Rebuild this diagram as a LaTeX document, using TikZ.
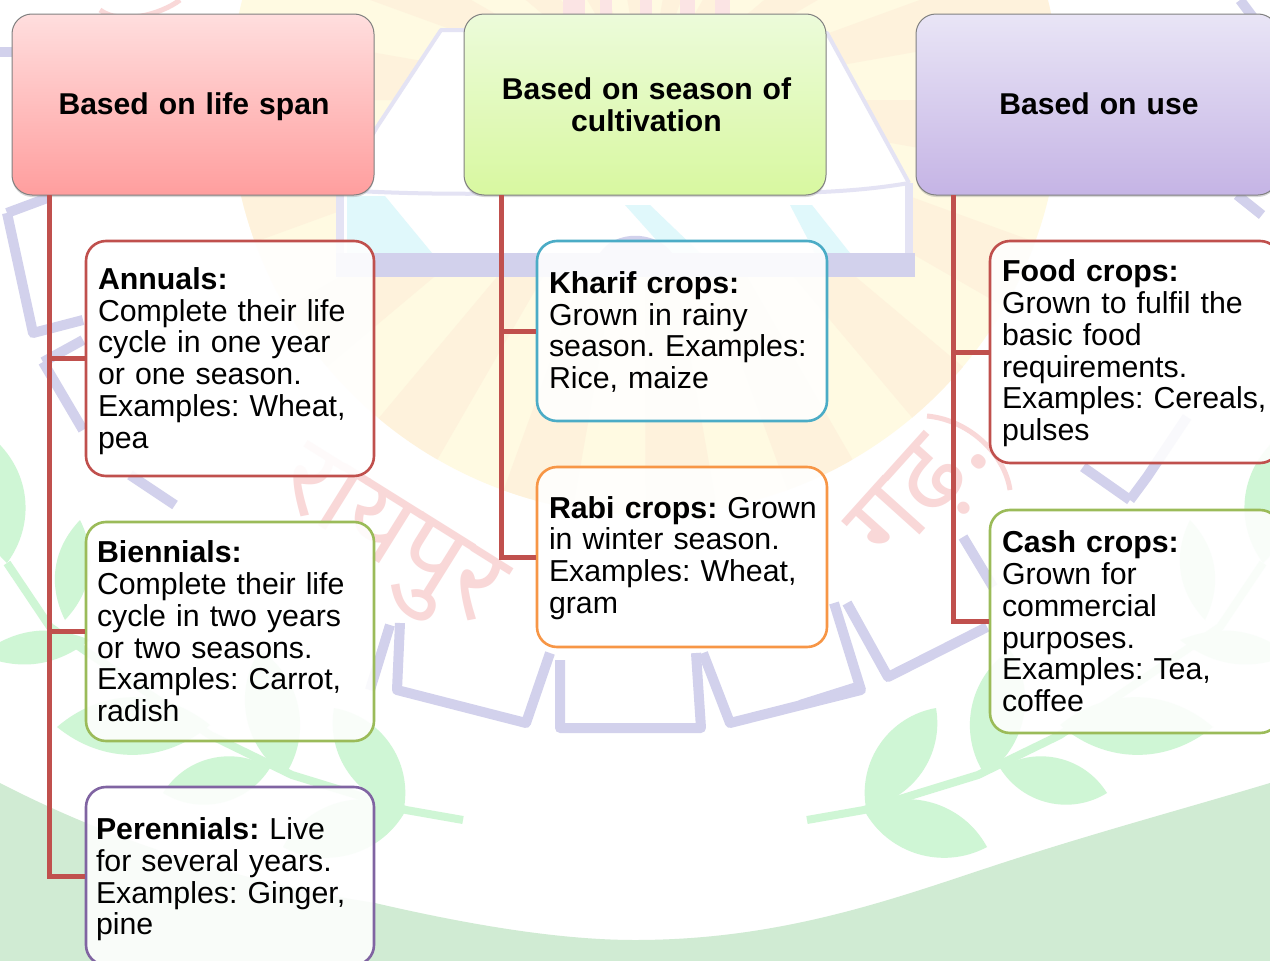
\documentclass[tikz,border=0pt]{standalone}
\usepackage{fontspec}
\setmainfont[WordSpace=0.85]{Liberation Sans}
\newfontfamily\devfont[Script=Devanagari]{Noto Sans}
\usetikzlibrary{shadows}
\definecolor{wmpurple}{HTML}{D2D1EC}
\definecolor{wmgreen}{HTML}{CFF6D5}
\definecolor{wmband}{HTML}{D0EBD3}
\definecolor{wmred}{HTML}{F9D8D8}
\definecolor{sunA}{HTML}{FFFAE2}
\definecolor{sunB}{HTML}{FEF2DC}
\definecolor{wmcyan}{HTML}{E0F8FB}
\definecolor{cRed}{HTML}{C0504D}
\definecolor{cGreen}{HTML}{9BBB59}
\definecolor{cPurple}{HTML}{8064A2}
\definecolor{cBlue}{HTML}{4BACC6}
\definecolor{cOrange}{HTML}{F79646}
\newcommand{\tp}[1]{\rule{0pt}{#1}}
\tikzset{
  x=1pt,y=-1pt,
  headbox/.style={draw=black!50,line width=1pt,rounded corners=20pt,
    minimum width=362pt,minimum height=181pt,align=center,inner sep=0pt,
    text width=340pt,font=\fontsize{30.1}{32}\selectfont\bfseries,
    drop shadow={shadow xshift=0pt,shadow yshift=-2pt,opacity=.3}},
  leafbox/.style={draw=#1,line width=2.6pt,rounded corners=20pt,fill=white,fill opacity=.88,
    text opacity=1,align=left,inner xsep=12pt,inner ysep=0pt,text width=264pt,
    font=\fontsize{30.3}{31.75}\selectfont,
    execute at begin node={\frenchspacing\hyphenpenalty=10000 \rightskip=-40pt plus 1fil\relax}},
  conn/.style={draw=cRed,line width=5pt,line join=miter},
  wmline/.style={draw=wmpurple,line width=10pt,line join=round},
  wmleaf/.style={fill=wmgreen,draw=none},
  wmstem/.style={draw=wmgreen,line width=8pt},
  wmtext/.style={text=wmred,font=\fontsize{108}{108}\selectfont\devfont\bfseries,inner sep=0pt}
}
\newcommand{\wmleafshape}[3]{\fill[wmleaf] #1 to[bend left=#3] #2 to[bend left=#3] #1;}
\newcommand{\wmbranch}{%
  \draw[wmstem] (807,820) -- (864,810) -- (978,775) -- (1060,735) -- (1220,627) -- (1263,563);
  \wmleafshape{(866,808)}{(936,708)}{45}
  \wmleafshape{(987,847)}{(864,810)}{45}
  \wmleafshape{(985,775)}{(1010,650)}{45}
  \wmleafshape{(1107,793)}{(1000,768)}{45}
  \wmleafshape{(1213,727)}{(1060,725)}{40}
  \wmleafshape{(1180,640)}{(1290,655)}{30}
  \wmleafshape{(1205,620)}{(1190,520)}{35}
  \wmleafshape{(1263,563)}{(1275,440)}{42}
}
\begin{document}
\begin{tikzpicture}
\useasboundingbox (0,0) rectangle (1270,961);
\clip (0,0) rectangle (1270,961);
\fill[white] (0,0) rectangle (1270,961);
% watermark: sun
\begin{scope}
  \clip (645,100) circle[radius=415];
  \fill[sunA] (200,-330) rectangle (1100,530);
  \foreach \a in {0,20,...,340}{
    \fill[sunB] (645,100) -- ++(\a:600) -- ++(\a+90:105) -- cycle;
  }
\end{scope}
\foreach \a/\b in {563/585,600/612,640/652,680/695,715/730}{
  \fill[wmred!70] (\a,0) -- (\b,0) -- (\b,14) -- (\a,14) -- cycle;
}
% watermark: house
\fill[white] (441,30) -- (827,33) -- (909,183) -- (909,253) -- (340,253) -- (340,190) -- (377,127) -- cycle;
\fill[wmcyan] (347,196) -- (385,196) -- (432,253) -- (347,253) -- cycle;
\fill[wmcyan] (625,205) -- (650,205) -- (700,253) -- (668,253) -- cycle;
\fill[wmcyan] (790,205) -- (812,205) -- (850,253) -- (815,253) -- cycle;
\draw[draw=wmpurple!60,line width=4pt,line join=round]
  (340,190) -- (377,127) -- (441,30) -- (827,33) -- (909,183);
\draw[draw=wmpurple!60,line width=4pt] (340,190) .. controls (420,195) and (500,195) .. (640,190)
  .. controls (760,195) and (840,195) .. (909,183);
\draw[draw=wmpurple!60,line width=8pt] (340,190) -- (340,255) (909,183) -- (909,255);
\fill[wmpurple] (336,253) rectangle (915,277);
\fill[wmpurple] (600,253) .. controls (615,230) and (655,230) .. (672,253) -- cycle;
% watermark: red lettering
\node[wmtext,rotate=-32] (wmA) at (385,545) {रायपुर};
\node[wmtext,rotate=48] (wmB) at (925,495) {गढ़.};
\draw[wmred,line width=5pt] (927,416) .. controls (970,420) and (1005,455) .. (1010,490);
\draw[wmred,line width=5pt] (100,10) .. controls (120,25) and (160,15) .. (180,0);
% watermark: frame zigzag
\draw[wmline] (400,623) -- (397,690) -- (526,723) -- (550,653);
\draw[wmline] (560,660) -- (560,728) -- (701,728) -- (696,653);
\draw[wmline] (703,653) -- (730,723) -- (861,690) -- (834,603);
\draw[wmline] (857,687) -- (800,705);
\draw[wmline] (847,603) -- (888,677) -- (987,627);
\draw[wmline] (963,537) -- (993,587);
\draw[wmline] (1083,467) -- (1130,500);
\draw[wmline] (1130,500) -- (1147,477) -- (1187,417);
\draw[wmline] (7,213) -- (33,333) -- (83,320);
\draw[wmline] (7,213) -- (50,197);
\draw[wmline] (43,362) -- (83,430);
\draw[wmline] (43,362) -- (83,340);
\draw[wmline] (130,475) -- (175,505);
\draw[wmline] (390,625) -- (370,690);
\draw[wmline] (0,52) -- (12,52);
\draw[wmline] (1240,0) -- (1270,40);
\draw[wmline] (1237,195) -- (1262,215);
% watermark: leaves
\wmbranch
\begin{scope}[xshift=1270pt,xscale=-1]
  \wmbranch
\end{scope}
% watermark: bottom band
\fill[wmband] (0,783) .. controls (130,850) and (260,885) .. (375,903)
  .. controls (470,925) and (560,940) .. (635,940)
  .. controls (780,940) and (890,900) .. (990,867)
  .. controls (1090,834) and (1180,810) .. (1270,783)
  -- (1270,961) -- (0,961) -- cycle;
% headers
\node[headbox,top color={rgb,255:red,255;green,222;blue,222},bottom color={rgb,255:red,255;green,158;blue,158}] (h1) at (193,104.5) {\hspace*{2pt}\tp{26pt}Based on life span};
\node[headbox,top color={rgb,255:red,236;green,251;blue,218},bottom color={rgb,255:red,216;green,248;blue,160}] (h2) at (645,104.5) {\hspace*{3pt}Based on season of\\\hspace*{3pt}cultivation};
\node[headbox,top color={rgb,255:red,233;green,229;blue,246},bottom color={rgb,255:red,197;green,180;blue,229}] (h3) at (1097,104.5) {\hspace*{4pt}Based on use\rule[-2pt]{0pt}{1pt}};
% leaf boxes
\node[leafbox=cRed,minimum width=288pt,minimum height=235pt] (a1) at (230,358.5) {\tp{27pt}\textbf{Annuals:}\\Complete their life\\cycle in one year\\or one season.\\Examples: Wheat,\\pea};
\node[leafbox=cGreen,inner xsep=11pt,text width=266pt,minimum width=288pt,minimum height=219pt] (a2) at (230,631.5) {\textbf{Biennials:}\\Complete their life\\cycle in two years\\or two seasons.\\Examples: Carrot,\\radish};
\node[leafbox=cPurple,inner xsep=10pt,text width=268pt,minimum width=288pt,minimum height=178pt] (a3) at (230,876) {\tp{29pt}\textbf{Perennials:} Live\\for several years.\\Examples: Ginger,\\pine};
\node[leafbox=cBlue,text width=266pt,minimum width=290pt,minimum height=180pt] (b1) at (682,331) {\tp{24pt}\textbf{Kharif crops:}\\Grown in rainy\\season. Examples:\\Rice, maize};
\node[leafbox=cOrange,text width=266pt,minimum width=290pt,minimum height=180pt] (b2) at (682,557) {\tp{24pt}\textbf{Rabi crops:} Grown\\in winter season.\\Examples: Wheat,\\gram};
\node[leafbox=cRed,text width=266pt,minimum width=290pt,minimum height=222pt] (c1) at (1135,352) {\tp{25pt}\textbf{Food crops:}\\Grown to fulfil the\\basic food\\requirements.\\Examples: Cereals,\\pulses};
\node[leafbox=cGreen,text width=266pt,minimum width=290pt,minimum height=223pt] (c2) at (1135,621.5) {\textbf{Cash crops:}\\Grown for\\commercial\\purposes.\\Examples: Tea,\\coffee};
% connectors
\coordinate (s1) at (49,195);
\coordinate (s2) at (501,195);
\coordinate (s3) at (953,195);
\draw[conn] (s1) |- (a1.west);
\draw[conn] (s1) |- (a2.west);
\draw[conn] (s1) |- (a3.west);
\draw[conn] (s2) |- (b1.west);
\draw[conn] (s2) |- (b2.west);
\draw[conn] (s3) |- (c1.west);
\draw[conn] (s3) |- (c2.west);
\end{tikzpicture}
\end{document}
